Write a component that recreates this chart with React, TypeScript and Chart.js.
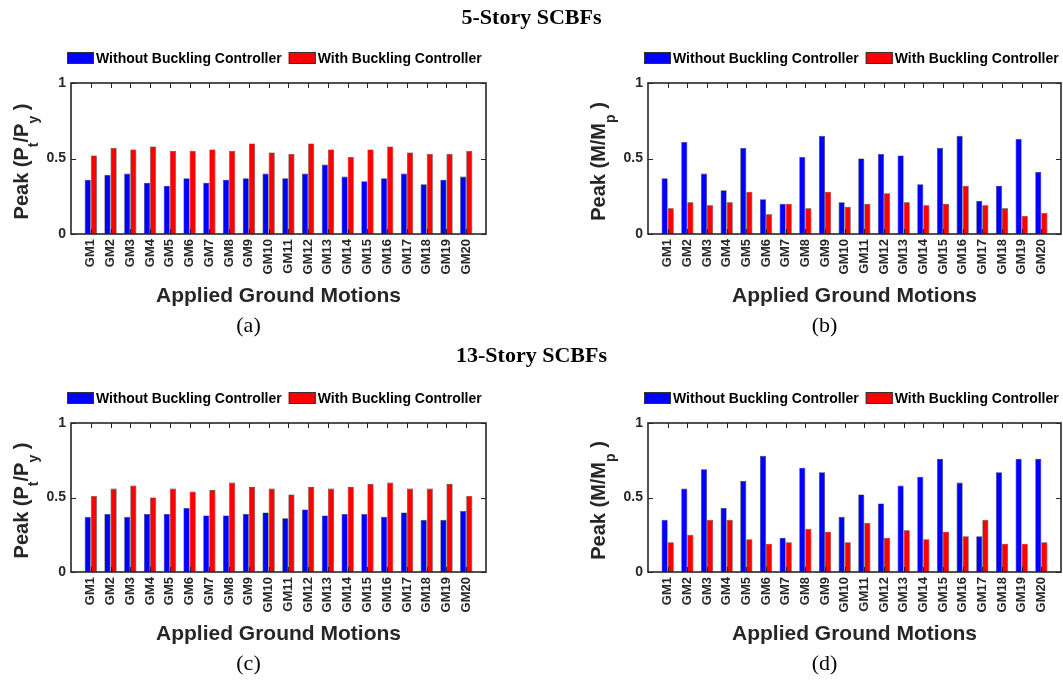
import React, { useEffect, useRef } from 'react';
import { Chart, registerables } from 'chart.js';

Chart.register(...registerables);

const categories = ['GM1', 'GM2', 'GM3', 'GM4', 'GM5', 'GM6', 'GM7', 'GM8', 'GM9', 'GM10', 'GM11', 'GM12', 'GM13', 'GM14', 'GM15', 'GM16', 'GM17', 'GM18', 'GM19', 'GM20'];
const seriesNames = ['Without Buckling Controller', 'With Buckling Controller'];
const yTickValues = [0, 0.5, 1];
const yTickLabels = ['0', '0.5', '1'];
const xAxisTitle = 'Applied Ground Motions';
const groupTitles = ['5-Story SCBFs', '13-Story SCBFs'];

// (a) 5-story, Peak (Pt/Py)
const aWithout = [0.36, 0.39, 0.40, 0.34, 0.32, 0.37, 0.34, 0.36, 0.37, 0.40, 0.37, 0.40, 0.46, 0.38, 0.35, 0.37, 0.40, 0.33, 0.36, 0.38];
const aWith = [0.52, 0.57, 0.56, 0.58, 0.55, 0.55, 0.56, 0.55, 0.60, 0.54, 0.53, 0.60, 0.56, 0.51, 0.56, 0.58, 0.54, 0.53, 0.53, 0.55];
// (b) 5-story, Peak (M/Mp)
const bWithout = [0.37, 0.61, 0.40, 0.29, 0.57, 0.23, 0.20, 0.51, 0.65, 0.21, 0.50, 0.53, 0.52, 0.33, 0.57, 0.65, 0.22, 0.32, 0.63, 0.41];
const bWith = [0.17, 0.21, 0.19, 0.21, 0.28, 0.13, 0.20, 0.17, 0.28, 0.18, 0.20, 0.27, 0.21, 0.19, 0.20, 0.32, 0.19, 0.17, 0.12, 0.14];
// (c) 13-story, Peak (Pt/Py)
const cWithout = [0.37, 0.39, 0.37, 0.39, 0.39, 0.43, 0.38, 0.38, 0.39, 0.40, 0.36, 0.42, 0.38, 0.39, 0.39, 0.37, 0.40, 0.35, 0.35, 0.41];
const cWith = [0.51, 0.56, 0.58, 0.50, 0.56, 0.54, 0.55, 0.60, 0.57, 0.56, 0.52, 0.57, 0.56, 0.57, 0.59, 0.60, 0.56, 0.56, 0.59, 0.51];
// (d) 13-story, Peak (M/Mp)
const dWithout = [0.35, 0.56, 0.69, 0.43, 0.61, 0.78, 0.23, 0.70, 0.67, 0.37, 0.52, 0.46, 0.58, 0.64, 0.76, 0.60, 0.24, 0.67, 0.76, 0.76];
const dWith = [0.20, 0.25, 0.35, 0.35, 0.22, 0.19, 0.20, 0.29, 0.27, 0.20, 0.33, 0.23, 0.28, 0.22, 0.27, 0.24, 0.35, 0.19, 0.19, 0.20];

type Seg = { t: string; sub?: boolean };
const yLabelForce: Seg[] = [{ t: 'Peak (P' }, { t: 't', sub: true }, { t: '/P' }, { t: 'y', sub: true }, { t: ' )' }];
const yLabelMoment: Seg[] = [{ t: 'Peak (M/M' }, { t: 'p', sub: true }, { t: ' )' }];

const SANS = '"Liberation Sans", Arial, sans-serif';
const SERIF = '"Liberation Serif", "Times New Roman", serif';
const AXIS_COLOR = '#262626';

const matlabPlugin = {
  id: 'matlabDecor',
  afterDraw(chart: any, _args: any, opts: any) {
    const { ctx, chartArea: ca, scales } = chart;
    const x = scales.x;
    const y = scales.y;
    ctx.save();
    // frame
    ctx.strokeStyle = AXIS_COLOR;
    ctx.lineWidth = 1.6;
    ctx.strokeRect(ca.left, ca.top, ca.right - ca.left, ca.bottom - ca.top);
    // inward ticks
    ctx.lineWidth = 1;
    ctx.beginPath();
    categories.forEach((c) => {
      const px = Math.round(x.getPixelForValue(categories.indexOf(c) + 1)) + 0.5;
      ctx.moveTo(px, ca.top);
      ctx.lineTo(px, ca.top + 5);
      ctx.moveTo(px, ca.bottom);
      ctx.lineTo(px, ca.bottom - 5);
    });
    yTickValues.forEach((v) => {
      const py = Math.round(y.getPixelForValue(v)) + 0.5;
      ctx.moveTo(ca.left, py);
      ctx.lineTo(ca.left + 5, py);
      ctx.moveTo(ca.right, py);
      ctx.lineTo(ca.right - 5, py);
    });
    ctx.stroke();

    // legend
    const legFont = 'bold 14px ' + SANS;
    let lx = ca.left - 4;
    const by = ca.top - 31 + (opts.legendDy || 0);
    chart.data.datasets.forEach((ds: any) => {
      ctx.fillStyle = ds.backgroundColor;
      ctx.fillRect(lx, by, 27, 12);
      ctx.strokeStyle = '#333';
      ctx.lineWidth = 1;
      ctx.strokeRect(lx + 0.5, by + 0.5, 26, 11);
      lx += 29;
      ctx.fillStyle = '#000';
      ctx.font = legFont;
      ctx.textAlign = 'left';
      ctx.textBaseline = 'middle';
      ctx.fillText(ds.label, lx, by + 7);
      lx += ctx.measureText(ds.label).width + 7;
    });

    // y title with subscripts
    const segs: Seg[] = opts.yLabel;
    const mainFont = 'bold 20px ' + SANS;
    const subFont = 'bold 14px ' + SANS;
    let total = 0;
    segs.forEach((s) => {
      ctx.font = s.sub ? subFont : mainFont;
      total += ctx.measureText(s.t).width;
    });
    ctx.save();
    ctx.translate(ca.left - 43, (ca.top + ca.bottom) / 2 + 3);
    ctx.rotate(-Math.PI / 2);
    ctx.fillStyle = AXIS_COLOR;
    ctx.textAlign = 'left';
    ctx.textBaseline = 'alphabetic';
    let cx = -total / 2;
    segs.forEach((s) => {
      ctx.font = s.sub ? subFont : mainFont;
      ctx.fillText(s.t, cx, s.sub ? 10 : 0);
      cx += ctx.measureText(s.t).width;
    });
    ctx.restore();

    // x title
    ctx.fillStyle = AXIS_COLOR;
    ctx.font = 'bold 21px ' + SANS;
    ctx.textAlign = 'center';
    ctx.textBaseline = 'middle';
    ctx.fillText(xAxisTitle, (ca.left + ca.right) / 2, ca.bottom + 62);

    // panel letter
    ctx.fillStyle = '#000';
    ctx.font = '22px ' + SERIF;
    ctx.fillText(opts.letter, (ca.left + ca.right) / 2 - 30, ca.bottom + 92);
    ctx.restore();
  },
};

type PanelProps = {
  left: number;
  top: number;
  width: number;
  height: number;
  area: { left: number; right: number; top: number; bottom: number };
  without: number[];
  withC: number[];
  yLabel: Seg[];
  letter: string;
};

function Panel(p: PanelProps) {
  const ref = useRef<HTMLCanvasElement>(null);
  useEffect(() => {
    if (!ref.current) return;
    const labels = ['', ...categories, ''];
    const pad = (arr: number[]) => [null, ...arr, null];
    const barCommon = {
      borderColor: 'rgba(0,0,0,0.8)',
      borderWidth: 0.6,
      borderSkipped: 'start' as const,
      categoryPercentage: 0.62,
      barPercentage: 1,
    };
    const chart = new Chart(ref.current, {
      type: 'bar',
      data: {
        labels,
        datasets: [
          { label: seriesNames[0], data: pad(p.without), backgroundColor: '#0000FF', ...barCommon },
          { label: seriesNames[1], data: pad(p.withC), backgroundColor: '#FF0000', ...barCommon },
        ],
      },
      options: {
        animation: false,
        responsive: false,
        maintainAspectRatio: false,
        layout: { padding: { left: 0, right: p.width - p.area.right, top: p.area.top, bottom: 0 } },
        plugins: {
          legend: { display: false },
          tooltip: { enabled: false },
          matlabDecor: { yLabel: p.yLabel, letter: p.letter },
        } as any,
        scales: {
          x: {
            type: 'category',
            offset: false,
            grid: { display: false, drawTicks: false },
            border: { display: false },
            ticks: {
              autoSkip: false,
              minRotation: 90,
              maxRotation: 90,
              padding: 5,
              color: AXIS_COLOR,
              font: { family: SANS, size: 13, weight: 'bold' },
            },
            afterFit: (s: any) => {
              s.height = p.height - p.area.bottom;
              s.paddingLeft = 0;
              s.paddingRight = 0;
            },
          },
          y: {
            min: 0,
            max: 1,
            grid: { display: false, drawTicks: false },
            border: { display: false },
            ticks: {
              stepSize: 0.5,
              padding: 5,
              color: AXIS_COLOR,
              font: { family: SANS, size: 14, weight: 'bold' },
              callback: (v: any) => {
                const i = yTickValues.indexOf(Number(v));
                return i >= 0 ? yTickLabels[i] : '';
              },
            },
            afterFit: (s: any) => {
              s.width = p.area.left;
              s.paddingTop = 0;
              s.paddingBottom = 0;
            },
          },
        } as any,
      },
      plugins: [matlabPlugin],
    });
    return () => chart.destroy();
  }, []);
  return (
    <canvas
      ref={ref}
      width={p.width}
      height={p.height}
      style={{ position: 'absolute', left: p.left, top: p.top, width: p.width, height: p.height, display: 'block' }}
    />
  );
}

export default function App() {
  const titleStyle: React.CSSProperties = {
    position: 'absolute',
    left: 0,
    width: 1063,
    textAlign: 'center',
    fontFamily: SERIF,
    fontWeight: 'bold',
    fontSize: 22,
    lineHeight: '24px',
    color: '#000',
    zIndex: 2,
  };
  return (
    <div style={{ position: 'fixed', left: 0, top: 0, width: 1063, height: 681, background: '#fff', overflow: 'hidden' }}>
      <div style={{ ...titleStyle, top: 5 }}>{groupTitles[0]}</div>
      <div style={{ ...titleStyle, top: 343 }}>{groupTitles[1]}</div>
      <Panel left={0} top={0} width={531} height={340} area={{ left: 71, right: 486, top: 83, bottom: 234 }} without={aWithout} withC={aWith} yLabel={yLabelForce} letter="(a)" />
      <Panel left={531} top={0} width={532} height={340} area={{ left: 117, right: 530, top: 83, bottom: 234 }} without={bWithout} withC={bWith} yLabel={yLabelMoment} letter="(b)" />
      <Panel left={0} top={340} width={531} height={341} area={{ left: 71, right: 486, top: 83, bottom: 232 }} without={cWithout} withC={cWith} yLabel={yLabelForce} letter="(c)" />
      <Panel left={531} top={340} width={532} height={341} area={{ left: 117, right: 530, top: 83, bottom: 232 }} without={dWithout} withC={dWith} yLabel={yLabelMoment} letter="(d)" />
    </div>
  );
}
